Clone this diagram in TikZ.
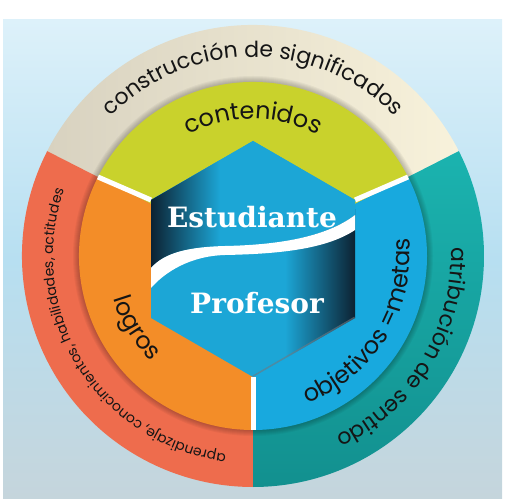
\documentclass[tikz,border=0pt]{standalone}
\usepackage{fontspec}
\usetikzlibrary{decorations.text}

\newfontfamily\ringfont{Poppins}
\newfontfamily\slabfont{DejaVu Serif}
\newcommand\bigring{\ringfont\fontsize{22}{26}\selectfont}
\newcommand\midring{\ringfont\fontsize{24}{28}\selectfont}
\newcommand\smallring{\ringfont\fontsize{14}{16}\selectfont}

\definecolor{bgtop}{HTML}{DDF1FA}
\definecolor{bgmid}{HTML}{B7DFF1}
\definecolor{bgbot}{HTML}{C5D5DC}
\definecolor{beigeL}{HTML}{D8D2C0}
\definecolor{beigeR}{HTML}{F8F2DB}
\definecolor{redring}{HTML}{EE6C4D}
\definecolor{tealA}{HTML}{1BB3AF}
\definecolor{tealB}{HTML}{12908F}
\definecolor{greenring}{HTML}{C9D22C}
\definecolor{orangering}{HTML}{F38D28}
\definecolor{bluering}{HTML}{18A9DE}
\definecolor{hexblue}{HTML}{1CA6D6}
\definecolor{navy}{HTML}{0C2030}
\definecolor{ink}{HTML}{151515}

\tikzset{
  ringtext/.style={decorate, decoration={text along path, text align=center, text color=ink, text={#1}}},
  hexlabel/.style={text=white, font=\slabfont\bfseries\fontsize{28}{32}\selectfont, inner sep=0pt},
  whiteline/.style={white, line width=5pt}
}

\begin{document}
\begin{tikzpicture}[x=1pt, y=1pt]

\useasboundingbox (0,0) rectangle (505,500);
\shade[top color=bgtop, bottom color=bgbot, middle color=bgmid] (3,2) rectangle (502,480);

\coordinate (c) at (253,244);

% outer ring
\shade[left color=beigeL, right color=beigeR] (c) -- ([shift={(27:231)}]c) arc[start angle=27, end angle=153, radius=231] -- cycle;
\fill[redring] (c) -- ([shift={(153:231)}]c) arc[start angle=153, end angle=270, radius=231] -- cycle;
\shade[top color=tealA, bottom color=tealB] (c) -- ([shift={(-90:231)}]c) arc[start angle=-90, end angle=27, radius=231] -- cycle;

\foreach \k in {1,...,6} \fill[black, opacity=0.04] (c) circle[radius=174+\k];

% middle ring
\fill[greenring] (c) -- ([shift={(27:174)}]c) arc[start angle=27, end angle=153, radius=174] -- cycle;
\fill[orangering] (c) -- ([shift={(153:174)}]c) arc[start angle=153, end angle=270, radius=174] -- cycle;
\fill[bluering] (c) -- ([shift={(-90:174)}]c) arc[start angle=-90, end angle=27, radius=174] -- cycle;

\coordinate (ht) at (253,359);
\coordinate (hur) at (355,300);
\coordinate (hlr) at (355,182);
\coordinate (hb) at (253,123);
\coordinate (hll) at (151,182);
\coordinate (hul) at (151,300);
\coordinate (eul) at ([shift={(153:174)}]c);
\coordinate (eur) at ([shift={(27:174)}]c);
\coordinate (eb) at ([shift={(-90:174)}]c);

\draw[whiteline] (hul) -- (eul);
\draw[whiteline] (hur) -- (eur);
\draw[whiteline] (hb) -- (eb);

% hexagon
\begin{scope}
\clip (ht) -- (hur) -- (hlr) -- (hb) -- (hll) -- (hul) -- cycle;
\fill[hexblue] (150,120) rectangle (356,360);
\shade[left color=hexblue, right color=navy] (285,120) rectangle (356,290);
\draw[navy!60, line width=3pt, opacity=0.6] (hb) -- (hlr);
\begin{scope}
\clip (hul) -- (ht) -- (hur) -- (355,285) .. controls (325,262) and (275,255) .. (225,254) .. controls (190,253) and (165,248) .. (151,232) -- cycle;
\fill[hexblue] (150,220) rectangle (356,360);
\shade[left color=navy, right color=hexblue] (150,220) rectangle (220,360);
\end{scope}
\fill[white] (151,232) .. controls (165,248) and (190,253) .. (225,254) .. controls (275,255) and (325,262) .. (355,285) -- (355,270) .. controls (325,250) and (275,246) .. (225,245) .. controls (190,244) and (165,228) .. (151,212) -- cycle;
\end{scope}

\node[hexlabel] (stud) at (252,283) {Estudiante};
\node[hexlabel] (prof) at (257,197) {Profesor};

% ring texts
\path[ringtext={|\bigring|construcción de significados}] ([shift={(153:199)}]c) arc[start angle=153, end angle=27, radius=199];
\path[ringtext={|\smallring|aprendizaje, conocimientos, habilidades, actitudes}] ([shift={(270:200)}]c) arc[start angle=270, end angle=153, radius=200];
\path[ringtext={|\bigring|atribución de sentido}] ([shift={(27:198)}]c) arc[start angle=27, end angle=-90, radius=198];

\path[ringtext={|\midring|contenidos}] ([shift={(153:137)}]c) arc[start angle=153, end angle=27, radius=137];
\path[ringtext={|\midring|logros}] ([shift={(153:146)}]c) arc[start angle=153, end angle=270, radius=146];
\path[ringtext={|\midring|objetivos =metas}] ([shift={(-90:157)}]c) arc[start angle=-90, end angle=27, radius=157];

\end{tikzpicture}
\end{document}
